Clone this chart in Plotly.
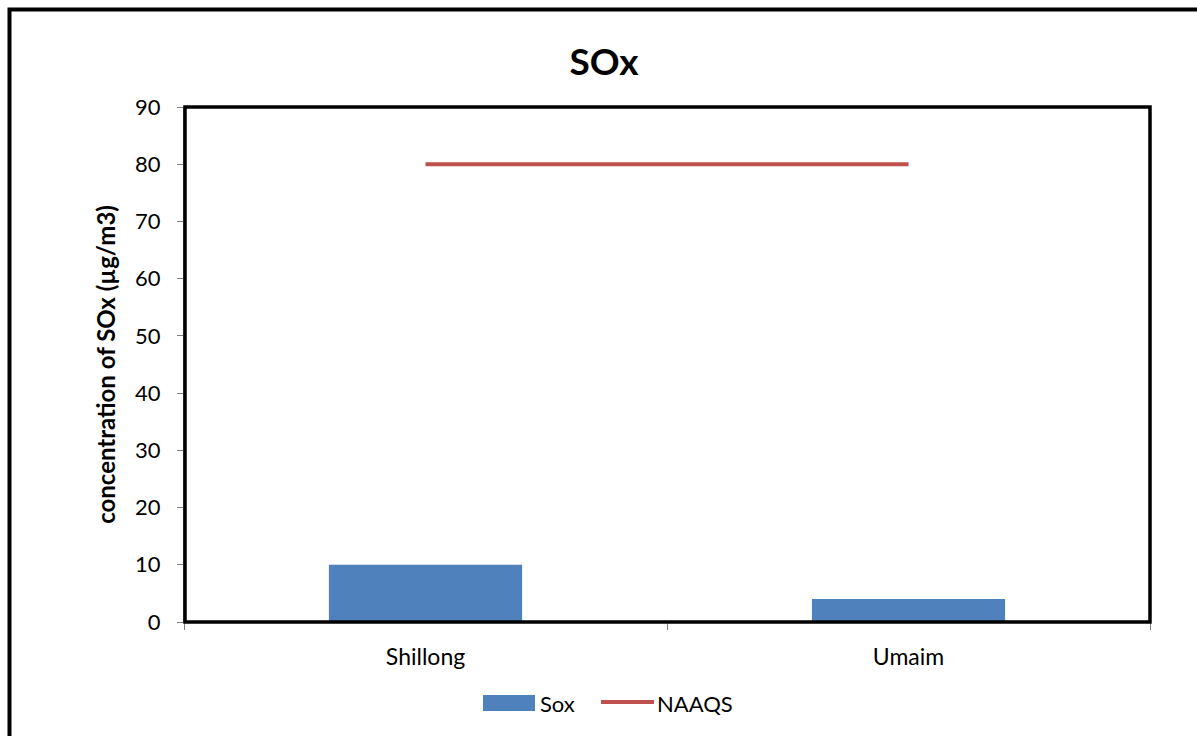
import plotly.graph_objects as go

# Monitoring sites and measured SOx concentration (µg/m3)
sites = ["Shillong", "Umaim"]
sox_values = [10, 4]
naaqs_limit = [80, 80]
y_ticks = [0, 10, 20, 30, 40, 50, 60, 70, 80, 90]

FONT = "Lato"
BAR_COLOR = "#4F81BD"
LINE_COLOR = "#C0504D"

# plot-area geometry in pixels
L, R, T, B = 184, 1150, 107, 622
W, H = R - L, B - T


def px(x):
    return (x - L) / W


def py(y):
    return (B - y) / H


fig = go.Figure()
fig.add_trace(go.Bar(
    x=sites, y=sox_values, name="Sox",
    marker=dict(color=BAR_COLOR, line=dict(width=0)),
    width=0.4, showlegend=False,
))
fig.add_trace(go.Scatter(
    x=sites, y=naaqs_limit, name="NAAQS", mode="lines",
    line=dict(color=LINE_COLOR, width=4), showlegend=False,
))

fig.update_layout(
    width=1197, height=736,
    margin=dict(l=L, r=1197 - R, t=T, b=736 - B),
    paper_bgcolor="white", plot_bgcolor="white",
    font=dict(family=FONT, size=22, color="black"),
    title=dict(text="<b>SOx</b>", x=(604) / 1197, xanchor="center", y=1 - 62 / 736, yanchor="middle",
               font=dict(family=FONT, size=37, color="black")),
    showlegend=False,
)
fig.update_xaxes(
    type="category", range=[-0.5, 1.5],
    showline=True, linecolor="#808080", linewidth=1,
    ticks="outside", ticklen=7, tickcolor="#808080", tickson="boundaries",
    showgrid=False, tickfont=dict(family=FONT, size=23), ticklabelstandoff=14,
)
fig.update_yaxes(
    range=[0, 90], tickvals=y_ticks,
    showline=True, linecolor="#808080", linewidth=1,
    ticks="outside", ticklen=6, tickcolor="#808080",
    showgrid=False, zeroline=False, tickfont=dict(family=FONT, size=22), ticklabelstandoff=12,
    title=dict(text="<b>concentration of SOx (µg/m3)</b>", font=dict(family=FONT, size=24), standoff=12),
)

# Plot-area frame and outer chart frame
fig.add_shape(type="rect", xref="paper", yref="paper", x0=px(185), x1=1.0, y0=0, y1=1,
              line=dict(color="black", width=3.5))
fig.add_shape(type="rect", xref="paper", yref="paper",
              x0=px(9.5), x1=px(1205), y0=py(745), y1=py(9.5),
              line=dict(color="black", width=4))

# Legend: bar swatch + line swatch with labels
fig.add_shape(type="rect", xref="paper", yref="paper",
              x0=px(483), x1=px(535), y0=py(711), y1=py(695),
              fillcolor=BAR_COLOR, line=dict(width=0))
fig.add_annotation(xref="paper", yref="paper", x=px(538), y=py(703), text="Sox",
                   showarrow=False, xanchor="left", yanchor="middle",
                   font=dict(family=FONT, size=22, color="black"))
fig.add_shape(type="line", xref="paper", yref="paper",
              x0=px(601), x1=px(654), y0=py(702), y1=py(702),
              line=dict(color=LINE_COLOR, width=4))
fig.add_annotation(xref="paper", yref="paper", x=px(655), y=py(703), text="NAAQS",
                   showarrow=False, xanchor="left", yanchor="middle",
                   font=dict(family=FONT, size=22, color="black"))

fig.write_html("out.html")
